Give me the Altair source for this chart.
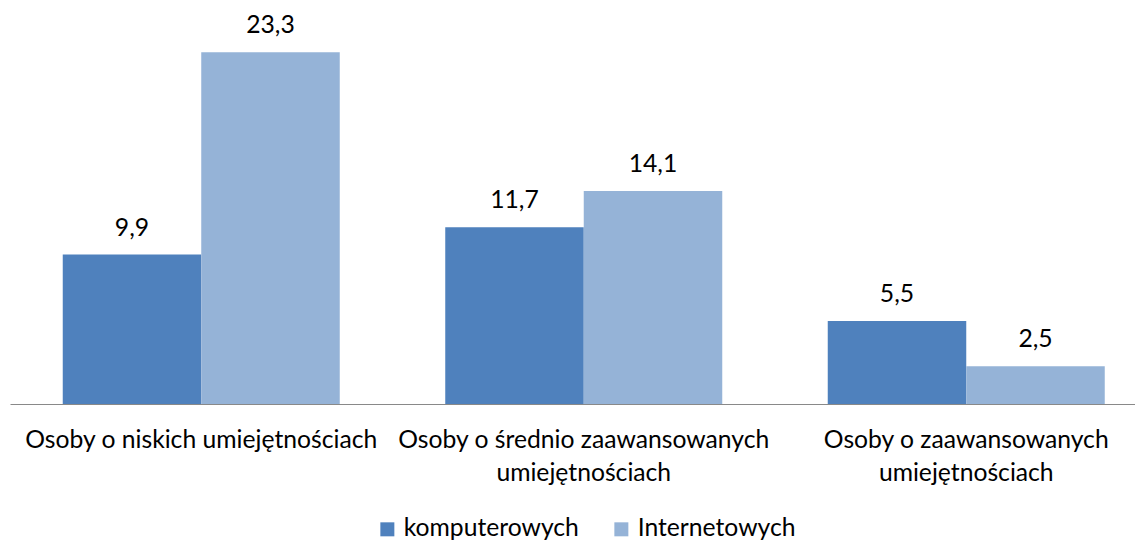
import altair as alt
import pandas as pd

categories = [
    "Osoby o niskich umiejętnościach",
    "Osoby o średnio zaawansowanych\numiejętnościach",
    "Osoby o zaawansowanych\numiejętnościach",
]
series = ["komputerowych", "Internetowych"]
komputerowych = [9.9, 11.7, 5.5]
internetowych = [23.3, 14.1, 2.5]
colors = ["#4F81BD", "#95B3D7"]

rows = []
for i, c in enumerate(categories):
    rows.append({"cat": c, "series": series[0], "value": komputerowych[i]})
    rows.append({"cat": c, "series": series[1], "value": internetowych[i]})
df = pd.DataFrame(rows)

FONT = "Lato"
FS = 24.7

base = alt.Chart(df).encode(
    x=alt.X(
        "cat:N",
        sort=categories,
        scale=alt.Scale(range=[0, 1147.5], paddingInner=0.2758, paddingOuter=0.1379),
        axis=alt.Axis(
            title=None,
            labelAngle=0,
            labelExpr="split(datum.value, '\\n')",
            labelFont=FONT,
            labelFontSize=FS,
            labelColor="#000000",
            labelLineHeight=33,
            labelPadding=23,
            labelLimit=0,
            ticks=False,
            domainColor="#898989",
            domainWidth=1,
            grid=False,
        ),
    ),
    xOffset=alt.XOffset("series:N", sort=series, scale=alt.Scale(paddingInner=0, paddingOuter=0)),
    y=alt.Y("value:Q", scale=alt.Scale(domain=[0, 25], nice=False), axis=None),
)

bars = base.mark_bar().encode(
    color=alt.Color(
        "series:N",
        sort=series,
        scale=alt.Scale(domain=series, range=colors),
        legend=alt.Legend(
            title=None,
            orient="none",
            direction="horizontal",
            legendX=365,
            legendY=490,
            symbolType="square",
            symbolSize=196,
            symbolStrokeWidth=0,
            symbolOpacity=1,
            labelFont=FONT,
            labelFontSize=FS,
            labelColor="#000000",
            labelLimit=0,
            columnPadding=30,
            labelOffset=4,
        ),
    )
)

labels = base.mark_text(font=FONT, fontSize=FS, baseline="alphabetic", dy=-19, color="#000000").transform_calculate(
    label="replace(format(datum.value, '.1f'), '.', ',')"
).encode(text="label:N")

chart = (
    alt.layer(bars, labels)
    .properties(
        width=1125,
        height=377.5,
        background="#ffffff",
        autosize=alt.AutoSizeParams(type="none"),
        padding={"left": 2, "top": 18.5, "right": 0, "bottom": 137},
    )
    .configure_view(strokeWidth=0, stroke=None)
)

chart.save("out.html", embed_options={"renderer": "svg", "actions": False})
